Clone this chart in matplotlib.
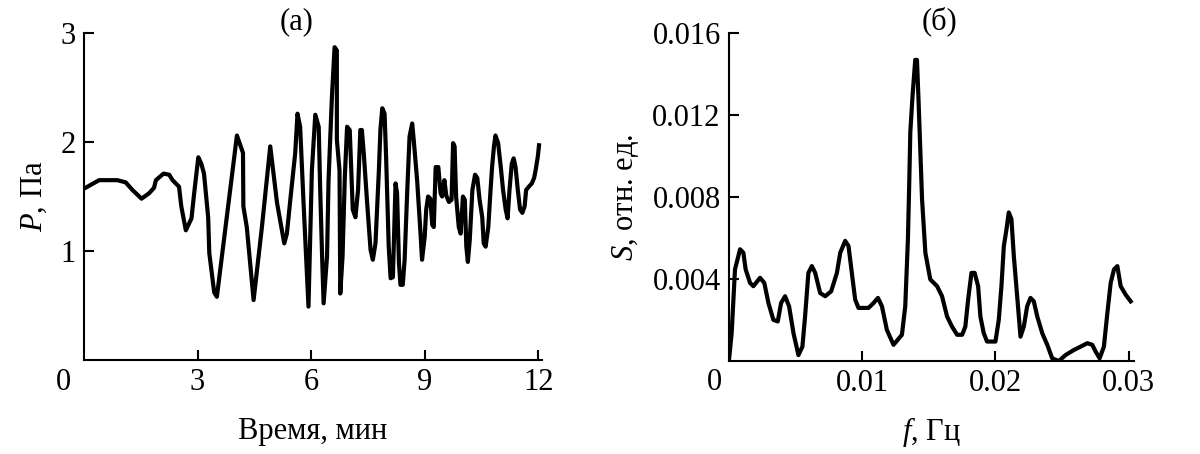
import matplotlib
matplotlib.use("Agg")
import matplotlib.pyplot as plt
import numpy as np

# (a) pressure vs time
t_min = [0.04, 0.40, 0.88, 1.10, 1.28, 1.52, 1.72, 1.85, 1.90, 2.10, 2.25, 2.34, 2.51, 2.57,
         2.69, 2.84, 2.91, 3.02, 3.10, 3.17, 3.28, 3.31, 3.44, 3.51, 4.04, 4.20, 4.21, 4.30,
         4.48, 4.70, 4.92, 5.10, 5.29, 5.36, 5.45, 5.58, 5.64, 5.71, 5.80, 5.93, 6.02, 6.11,
         6.20, 6.24, 6.29, 6.33, 6.42, 6.46, 6.55, 6.62, 6.68, 6.68, 6.75, 6.77, 6.83, 6.89,
         6.95, 7.02, 7.10, 7.17, 7.24, 7.30, 7.34, 7.39, 7.48, 7.57, 7.63, 7.70, 7.79, 7.83,
         7.88, 7.94, 7.98, 8.05, 8.10, 8.16, 8.23, 8.27, 8.32, 8.36, 8.42, 8.47, 8.54, 8.60,
         8.67, 8.71, 8.80, 8.89, 8.93, 9.00, 9.04, 9.09, 9.15, 9.20, 9.24, 9.29, 9.36, 9.42,
         9.46, 9.52, 9.57, 9.64, 9.71, 9.75, 9.79, 9.83, 9.90, 9.95, 10.01, 10.06, 10.10,
         10.14, 10.19, 10.26, 10.33, 10.39, 10.45, 10.52, 10.56, 10.61, 10.68, 10.74, 10.78,
         10.83, 10.87, 10.94, 11.01, 11.07, 11.14, 11.19, 11.24, 11.30, 11.35, 11.40, 11.46,
         11.52, 11.58, 11.64, 11.68, 11.75, 11.83, 11.89, 11.93, 11.99, 12.02]
p_pa = [1.58, 1.65, 1.65, 1.63, 1.56, 1.48, 1.53, 1.58, 1.65, 1.71, 1.70, 1.65, 1.59, 1.41,
        1.19, 1.30, 1.53, 1.86, 1.80, 1.71, 1.31, 0.98, 0.62, 0.58, 2.06, 1.90, 1.41, 1.22,
        0.55, 1.22, 1.96, 1.44, 1.07, 1.16, 1.47, 1.90, 2.26, 2.14, 1.44, 0.49, 1.74, 2.25,
        2.14, 1.56, 0.95, 0.52, 0.95, 1.65, 2.42, 2.87, 2.84, 2.02, 1.74, 0.61, 0.95, 1.68,
        2.14, 2.11, 1.38, 1.31, 1.56, 2.11, 2.11, 1.90, 1.44, 1.01, 0.92, 1.07, 1.74, 2.11,
        2.31, 2.26, 1.87, 1.04, 0.75, 0.76, 1.62, 1.53, 0.89, 0.69, 0.69, 0.92, 1.56, 2.05,
        2.17, 2.02, 1.65, 1.16, 0.92, 1.13, 1.38, 1.50, 1.48, 1.24, 1.22, 1.77, 1.77, 1.53,
        1.50, 1.65, 1.51, 1.45, 1.47, 1.99, 1.96, 1.50, 1.22, 1.16, 1.50, 1.47, 1.04,
        0.90, 1.10, 1.56, 1.70, 1.67, 1.47, 1.31, 1.07, 1.04, 1.22, 1.56, 1.77,
        1.96, 2.06, 1.99, 1.77, 1.56, 1.38, 1.30, 1.56, 1.80, 1.85, 1.77, 1.56,
        1.38, 1.35, 1.41, 1.56, 1.59, 1.62, 1.67, 1.74, 1.87, 1.97]

# (б) spectrum
f_hz = [0.0, 0.0002, 0.00045, 0.00083, 0.00108, 0.00125, 0.00158, 0.00183, 0.00233, 0.00265,
        0.00296, 0.00333, 0.00366, 0.00391, 0.00421, 0.00451, 0.00484, 0.00521, 0.00551,
        0.00571, 0.00596, 0.00622, 0.00647, 0.00684, 0.00722, 0.00767, 0.0081, 0.00835,
        0.00872, 0.00897, 0.00922, 0.00947, 0.00972, 0.01047, 0.01085, 0.01118, 0.01148,
        0.01185, 0.01235, 0.01298, 0.01323, 0.01343, 0.01353, 0.01361, 0.01378, 0.01398,
        0.01411, 0.01424, 0.01449, 0.01474, 0.01504, 0.01511, 0.01562, 0.01599, 0.01637,
        0.01674, 0.01712, 0.0175, 0.01774, 0.01795, 0.0182, 0.01844, 0.0187, 0.01887, 0.01912,
        0.01937, 0.02, 0.02025, 0.02045, 0.02063, 0.02083, 0.021, 0.0212, 0.02138, 0.02163,
        0.02188, 0.02213, 0.02238, 0.02263, 0.02288, 0.02314, 0.02351, 0.02389, 0.02426,
        0.02476, 0.02526, 0.02589, 0.02639, 0.02689, 0.02727, 0.02752, 0.02782, 0.02814,
        0.0284, 0.02865, 0.0289, 0.02915, 0.0294, 0.02977, 0.03015]
s_rel = [0.00005, 0.00136, 0.00447, 0.00545, 0.00528, 0.00447, 0.00381, 0.00365, 0.00406, 0.00381,
         0.00283, 0.00201, 0.00193, 0.00283, 0.00316, 0.00267, 0.00136, 0.00029, 0.0007,
         0.00217, 0.0043, 0.00463, 0.0043, 0.00332, 0.00316, 0.0034, 0.0043, 0.00528,
         0.00586, 0.00561, 0.0043, 0.003, 0.00259, 0.00259, 0.00283, 0.00308, 0.00267,
         0.00152, 0.00079, 0.00128, 0.00267, 0.00594, 0.00872, 0.01117, 0.01297, 0.01469,
         0.01469, 0.01248, 0.0079, 0.00528, 0.00422, 0.00398, 0.00365, 0.00316, 0.00217,
         0.00168, 0.00128, 0.00128, 0.00168, 0.003, 0.0043, 0.0043, 0.00365, 0.00217, 0.00136,
         0.00095, 0.00095, 0.00201, 0.00365, 0.00561, 0.00643, 0.00725, 0.00692, 0.00512, 0.00316,
         0.00119, 0.00168, 0.00267, 0.00308, 0.00291, 0.00217, 0.00136, 0.00079, 0.00013,
         0.0, 0.00029, 0.00054, 0.0007, 0.00087, 0.00079, 0.00046, 0.00013, 0.0007,
         0.00234, 0.00381, 0.00447, 0.00463, 0.00365, 0.00324, 0.00291]

plt.rcParams['font.family'] = ['Liberation Serif', 'DejaVu Serif']
plt.rcParams['mathtext.fontset'] = 'custom'
plt.rcParams['mathtext.it'] = 'Liberation Serif:italic'
plt.rcParams['mathtext.rm'] = 'Liberation Serif'
FS = 22

fig = plt.figure(figsize=(12, 4.54), dpi=100)
ax1 = fig.add_axes([0.07, 0.207, 0.3817, 0.7203])
ax2 = fig.add_axes([0.6075, 0.2048, 0.3375, 0.7225])

for ax in (ax1, ax2):
    for s in ('top', 'right'):
        ax.spines[s].set_visible(False)
    for s in ('left', 'bottom'):
        ax.spines[s].set_linewidth(1.5)
    ax.tick_params(direction='in', length=7, width=1.5, labelsize=FS, pad=6)

ax1.plot(t_min, p_pa, color='black', lw=3)
ax1.set_xlim(0, 12.1)
ax1.set_ylim(0, 3)
ax1.set_xticks([3, 6, 9, 12])
ax1.set_yticks([1, 2, 3])
ax1.set_xlabel('Время, мин', fontsize=FS, labelpad=14)
ax1.set_ylabel('$\\it{P}$, Па', fontsize=FS, labelpad=8)
ax1.text(0.465, 1.035, '(а)', transform=ax1.transAxes, ha='center', va='center', fontsize=FS)

ax2.plot(f_hz, s_rel, color='black', lw=3)
ax2.set_xlim(0, 0.0304)
ax2.set_ylim(0, 0.016)
ax2.set_xticks([0.01, 0.02, 0.03])
ax2.set_xticklabels(['0.01', '0.02', '0.03'])
ax2.set_yticks([0.004, 0.008, 0.012, 0.016])
ax2.set_yticklabels(['0.004', '0.008', '0.012', '0.016'])
ax2.set_xlabel('$\\it{f}$, Гц', fontsize=FS, labelpad=12)
ax2.set_ylabel('$\\it{S}$, отн. ед.', fontsize=FS, labelpad=8)
ax2.text(0.52, 1.035, '(б)', transform=ax2.transAxes, ha='center', va='center', fontsize=FS)

# origin labels sit left of the corner
fig.text(63 / 1200, 1 - 382 / 454, '0', ha='center', va='center', fontsize=FS)
fig.text(714 / 1200, 1 - 382 / 454, '0', ha='center', va='center', fontsize=FS)

fig.savefig('out.png', dpi=100, facecolor='white')
